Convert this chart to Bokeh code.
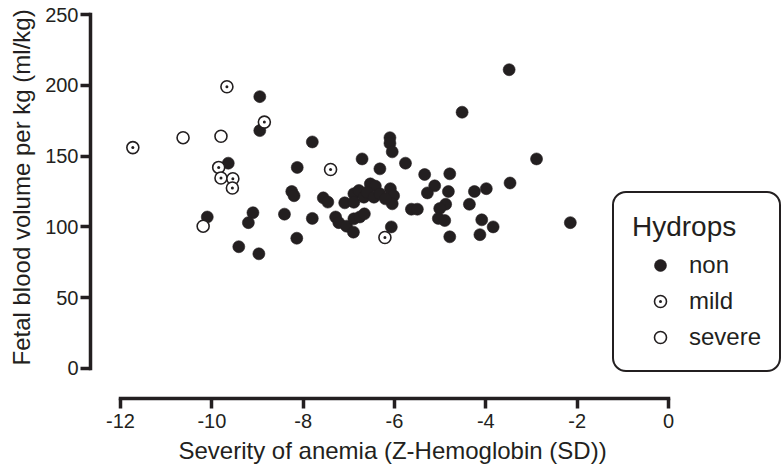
from bokeh.plotting import figure
from bokeh.models import FixedTicker, Legend, LegendItem, Range1d, Title
from bokeh.embed import file_html
from bokeh.resources import INLINE

# ---- data ----
non_x = [-3.49, -4.52, -2.89, -3.47, -2.15, -8.95, -8.95, -9.64, -8.13, -8.25, -8.20, -7.80,
         -6.71, -6.32, -7.56, -7.46, -10.10, -9.10, -9.20, -8.41, -7.80, -8.14, -9.41, -8.97,
         -6.10, -6.10, -6.05, -5.76, -5.34, -4.79, -5.12, -5.28, -4.82, -4.25, -3.99, -4.36,
         -4.88, -5.01, -5.63, -5.50, -5.04, -4.90, -4.09, -3.84, -4.13, -4.79, -6.07, -7.09,
         -6.89, -6.78, -6.89, -6.67, -6.53, -6.42, -6.60, -6.45, -6.32, -6.09, -6.02, -6.05,
         -6.20, -7.29, -7.22, -7.05, -6.90, -6.89, -6.76, -6.66]
non_y = [211, 181, 148, 131, 103, 192, 168, 145, 142, 125, 122, 160,
         148, 141, 120.5, 117.5, 107, 110, 103, 109, 106, 92, 86, 81,
         163, 159, 153, 145, 137, 137.5, 129, 124, 125, 125, 127, 116,
         116, 113, 112.5, 112.5, 106, 104.5, 105, 100, 94.5, 93, 100, 117,
         123.4, 125.7, 117.4, 121, 130.4, 128.8, 124.5, 121, 123.4, 127, 122, 116.3,
         119.8, 107, 103, 100.5, 96.3, 105.7, 107, 109.2]
mild_x = [-9.67, -8.85, -11.73, -9.85, -9.80, -9.54, -9.55, -7.40, -6.21]
mild_y = [199, 174, 156, 142, 134.5, 134, 127.5, 140.5, 92.5]
severe_x = [-10.63, -9.80, -10.19]
severe_y = [163, 164, 100.5]

x_ticks = [-12, -10, -8, -6, -4, -2, 0]
y_ticks = [0, 50, 100, 150, 200, 250]
x_title = "Severity of anemia (Z-Hemoglobin (SD))"
y_title = "Fetal blood volume per kg (ml/kg)"
legend_title = "Hydrops"
labels = ["non", "mild", "severe"]

C = "#231F20"
FONT = "Liberation Sans"

p = figure(width=781, height=472, output_backend="svg", toolbar_location=None,
           x_range=Range1d(-12.657, 2.474), y_range=Range1d(-21.19, 250),
           min_border_left=90, min_border_right=0, min_border_top=14, min_border_bottom=74,
           background_fill_color="white", border_fill_color="white")
p.outline_line_color = None
p.xgrid.grid_line_color = None
p.ygrid.grid_line_color = None

r_non = p.scatter(non_x, non_y, marker="circle", size=12, fill_color=C, line_color=C, line_width=0.6)
r_mild = p.scatter(mild_x, mild_y, marker="circle_dot", size=12, fill_color="white",
                   line_color=C, line_width=1.6)
r_sev = p.scatter(severe_x, severe_y, marker="circle", size=12, fill_color="white",
                  line_color=C, line_width=1.6)

for ax, ticks, bnds in ((p.xaxis[0], x_ticks, (-12, 0)), (p.yaxis[0], y_ticks, (0, 250))):
    ax.ticker = FixedTicker(ticks=ticks)
    ax.bounds = bnds
    ax.major_label_overrides = {t: str(t) for t in ticks}
    ax.axis_line_width = 3.5
    ax.axis_line_color = C
    ax.axis_line_cap = "square"
    ax.major_tick_line_width = 3.5
    ax.major_tick_line_color = C
    ax.major_tick_out = 10
    ax.major_tick_in = 0
    ax.minor_tick_line_color = None
    ax.major_label_text_font = FONT
    ax.major_label_text_font_size = "20px"
    ax.major_label_text_color = C

p.xaxis.major_label_standoff = 5
p.yaxis.major_label_standoff = 2

# axis titles as side-panel titles, positioned along the axis extent
p.add_layout(Title(text=x_title, align="left", offset=88, vertical_align="bottom", standoff=8,
                   text_font=FONT, text_font_size="24px", text_font_style="normal",
                   text_color=C), "below")
p.add_layout(Title(text=y_title, align="left", offset=33, vertical_align="top", standoff=12,
                   text_font=FONT, text_font_size="24px", text_font_style="normal",
                   text_color=C), "left")

legend = Legend(items=[LegendItem(label=labels[0], renderers=[r_non]),
                       LegendItem(label=labels[1], renderers=[r_mild]),
                       LegendItem(label=labels[2], renderers=[r_sev])],
                location=(522, 26), title=legend_title)
legend.title_text_font = FONT
legend.title_text_font_size = "28px"
legend.title_text_font_style = "normal"
legend.title_text_color = C
legend.title_standoff = 7
legend.label_text_font = FONT
legend.label_text_font_size = "24px"
legend.label_text_color = C
legend.border_line_color = C
legend.border_line_alpha = 1.0
legend.border_line_width = 2.5
legend.border_radius = 14
legend.background_fill_color = "white"
legend.background_fill_alpha = 1.0
legend.padding = 18
legend.spacing = 6
legend.margin = 0
legend.glyph_width = 56
legend.glyph_height = 30
legend.label_height = 30
legend.label_standoff = 1
p.add_layout(legend)

open("out.html", "w").write(file_html(p, INLINE))
